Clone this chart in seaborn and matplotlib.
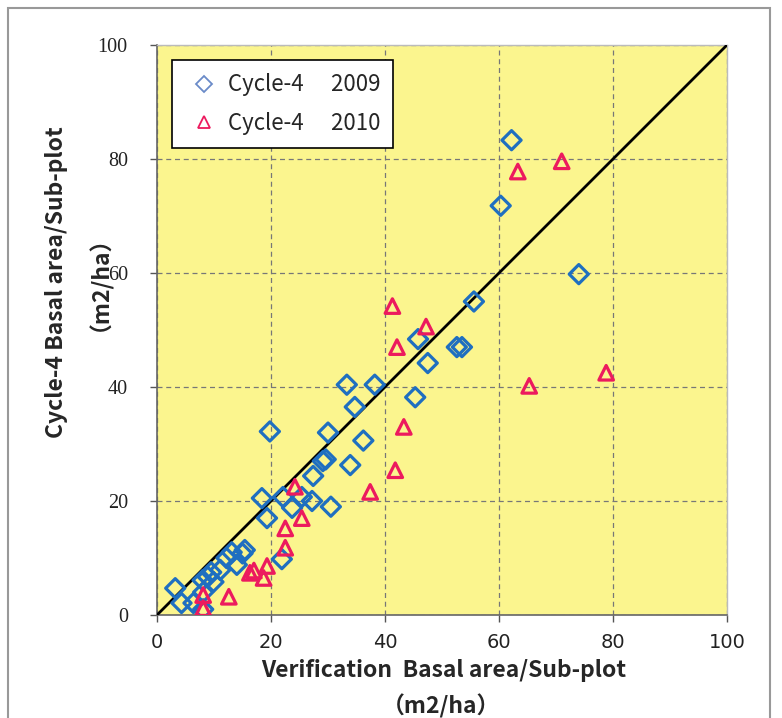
import matplotlib
matplotlib.use("Agg")
import matplotlib.pyplot as plt
import seaborn as sns
import pandas as pd
from matplotlib.lines import Line2D
from matplotlib.patches import Rectangle

# Cycle-4 2009 (blue diamonds)
x2009 = [62.2, 60.3, 74.0, 55.6, 45.8, 52.6, 53.5, 47.5, 33.3, 38.2, 45.3, 34.7,
         19.8, 30.0, 36.2, 29.1, 29.6, 33.9, 27.4, 18.4, 22.1, 25.4, 27.2, 23.7,
         30.5, 19.3, 21.9, 15.4, 13.1, 12.2, 14.0, 11.1, 8.9, 8.0, 9.9, 8.1,
         3.2, 4.3, 6.4, 8.1, 15.0, 9.5]
y2009 = [83.3, 71.8, 59.8, 55.0, 48.4, 47.0, 47.0, 44.2, 40.4, 40.4, 38.2, 36.5,
         32.2, 32.0, 30.6, 27.0, 27.3, 26.3, 24.4, 20.5, 20.7, 20.7, 20.0, 18.8,
         19.0, 17.0, 9.8, 11.4, 11.0, 10.0, 8.8, 7.9, 6.7, 6.1, 5.8, 4.0,
         4.7, 2.1, 2.1, 1.0, 10.8, 7.5]

# Cycle-4 2010 (red triangles)
x2010 = [71.0, 63.3, 41.3, 47.2, 42.1, 78.8, 65.3, 43.3, 41.8, 37.4, 24.2, 25.4,
         22.5, 22.5, 19.3, 18.7, 16.3, 17.0, 12.6, 8.1, 8.1]
y2010 = [79.6, 77.8, 54.2, 50.6, 47.0, 42.5, 40.2, 33.0, 25.4, 21.6, 22.5, 17.0,
         15.2, 11.8, 8.6, 6.5, 7.4, 7.8, 3.2, 3.5, 1.2]

series_labels = ["Cycle-4\u3000 2009", "Cycle-4\u3000 2010"]
ticks = [0, 20, 40, 60, 80, 100]
ref_line = [0, 100]
xlabel_lines = ["Verification  Basal area/Sub-plot", "\uff08m2/ha\uff09"]
ylabel_lines = ["Cycle-4 Basal area/Sub-plot", "\uff08m2/ha\uff09"]

BLUE = "#1F6FC0"
RED = "#EC1A5E"
W, H = 782, 718

sns.set_theme(style="white")
plt.rcParams["font.family"] = ["DejaVu Sans", "Noto Sans CJK JP"]

fig = plt.figure(figsize=(W / 100, H / 100), dpi=100)
ax = fig.add_axes([157 / W, 1 - 615 / H, 570 / W, 570 / H])
ax.set_facecolor("#FBF58E")

df1 = pd.DataFrame({"x": x2009, "y": y2009})
df2 = pd.DataFrame({"x": x2010, "y": y2010})

sns.lineplot(x=ref_line, y=ref_line, color="black", linewidth=2, ax=ax, zorder=3)

n0 = len(ax.collections)
sns.scatterplot(data=df1, x="x", y="y", marker="D", s=95, ax=ax, zorder=4,
                linewidth=2.3)
blue_colls = ax.collections[n0:]
n1 = len(ax.collections)
sns.scatterplot(data=df2, x="x", y="y", marker="^", s=110, ax=ax, zorder=5,
                linewidth=2.3)
red_colls = ax.collections[n1:]
for c in blue_colls:
    c.set_facecolor("none")
    c.set_edgecolor(BLUE)
for c in red_colls:
    c.set_facecolor("none")
    c.set_edgecolor(RED)

ax.set_xlabel("")
ax.set_ylabel("")
ax.set_xlim(0, 100)
ax.set_ylim(0, 100)
ax.set_xticks(ticks)
ax.set_yticks(ticks)
ax.set_xticklabels([str(t) for t in ticks], fontsize=14, color="#222222")
ax.set_yticklabels([str(t) for t in ticks], fontsize=14.5, color="#222222",
                   family="Liberation Serif")
ax.tick_params(axis="x", which="major", direction="out", length=5, width=1,
               color="#555555", bottom=True, pad=8)
ax.tick_params(axis="y", which="major", direction="out", length=5, width=1,
               color="#555555", left=True, pad=16)
ax.grid(True, linestyle=(0, (4, 3)), color="#777777", linewidth=0.9)
ax.set_axisbelow(True)
for side in ["left", "bottom"]:
    ax.spines[side].set_color("#666666")
    ax.spines[side].set_linewidth(1.2)
for side in ["top", "right"]:
    ax.spines[side].set_color("#BBBBBB")
    ax.spines[side].set_linewidth(1.0)

lab_family = ["Noto Sans CJK JP", "DejaVu Sans"]
# axis titles (positioned in pixel space of the figure)
fig.text(444 / W, 1 - 671 / H, xlabel_lines[0], ha="center", va="center",
         fontsize=16.5, fontweight="bold", family=lab_family)
fig.text(441 / W, 1 - 706 / H, xlabel_lines[1], ha="center", va="center",
         fontsize=16.5, fontweight="bold", family=lab_family)
fig.text(57 / W, 1 - 282 / H, ylabel_lines[0], ha="center", va="center",
         rotation=90, fontsize=16.5, fontweight="bold", family=lab_family)
fig.text(88 / W, 1 - 272 / H, ylabel_lines[1], ha="center", va="center",
         rotation=90, fontsize=16.5, fontweight="bold", family=lab_family)

handles = [
    Line2D([], [], marker="D", linestyle="none", markersize=8, markerfacecolor="none",
           markeredgecolor="#6A8BC8", markeredgewidth=1.3),
    Line2D([], [], marker="^", linestyle="none", markersize=9, markerfacecolor="none",
           markeredgecolor=RED, markeredgewidth=1.3),
]
leg = ax.legend(handles, series_labels, loc="upper left",
                bbox_to_anchor=(15 / 570, 1 - 15 / 570),
                frameon=True, fancybox=False, edgecolor="black", framealpha=1,
                prop={"family": lab_family, "size": 16}, handletextpad=0.2,
                borderpad=0.6, labelspacing=0.7, handlelength=1.7, borderaxespad=0)
leg.get_frame().set_linewidth(1.2)

# outer chart frame
fig.patches.append(Rectangle((8 / W, -0.05), 762 / W, 1 - 8 / H + 0.05,
                             transform=fig.transFigure, fill=False,
                             edgecolor="#999999", linewidth=1.5))

fig.savefig("out.png", dpi=100, facecolor="white")
